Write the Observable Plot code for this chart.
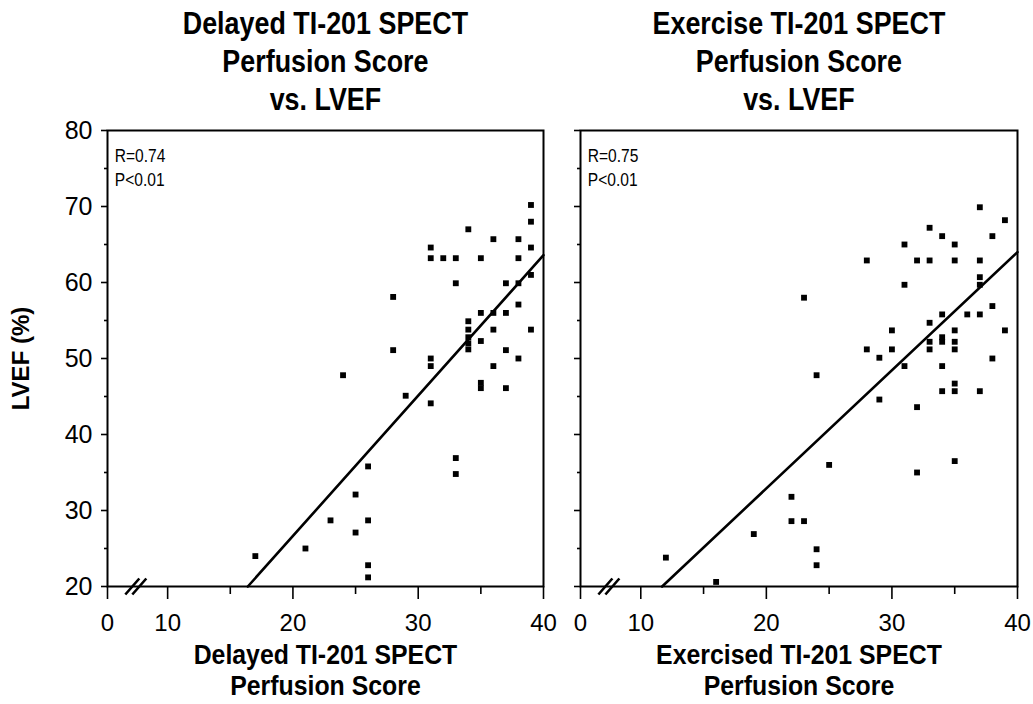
<!DOCTYPE html>
<html><head><meta charset="utf-8">
<script src="https://cdn.jsdelivr.net/npm/d3@7"></script>
<script src="https://cdn.jsdelivr.net/npm/@observablehq/plot@0.6"></script>
<style>
body{margin:0;background:#fff;}
#wrap{position:relative;width:1033px;height:704px;overflow:hidden;}
#wrap svg{position:absolute;top:0;overflow:visible;}
</style></head><body><div id="wrap"></div>
<script>
// Delayed Tl-201 SPECT perfusion score (x) vs LVEF % (y)
const delayedScore = [17,21,23,24,25,25,26,26,26,26,28,28,29,31,31,31,31,31,32,33,33,33,33,34,34,34,34,34,34,35,35,35,35,35,36,36,36,36,37,37,37,37,38,38,38,38,38,39,39,39,39,39];
const delayedLVEF  = [24,25,28.7,47.8,32.1,27.1,35.8,28.7,22.8,21.2,58.1,51.1,45.1,64.6,63.2,50.0,49.0,44.1,63.2,63.2,59.9,36.9,34.8,67.0,54.9,53.8,52.8,52.0,51.2,63.2,56.0,52.3,46.8,46.1,65.7,56.0,53.8,49.0,59.9,56.0,51.1,46.1,65.7,63.2,59.9,57.1,50.0,70.2,68.0,64.6,61.0,53.8];
// Exercise Tl-201 SPECT perfusion score (x) vs LVEF % (y)
const exerciseScore = [12,16,19,22,22,23,23,24,24,24,25,28,28,29,29,30,30,31,31,31,32,32,32,33,33,33,33,33,34,34,34,34,34,34,35,35,35,35,35,35,35,35,36,37,37,37,37,37,37,38,38,38,39,39];
const exerciseLVEF  = [23.8,20.6,26.9,31.8,28.6,58.0,28.6,47.8,24.9,22.8,36.0,62.9,51.2,50.1,44.6,53.7,51.2,65.0,59.7,49.0,62.9,43.6,35.0,67.2,62.9,54.7,52.2,51.2,66.1,55.8,52.8,52.2,49.0,45.7,65.0,62.9,53.7,52.2,51.2,46.7,45.7,36.5,55.8,69.9,62.9,60.7,59.7,55.8,45.7,66.1,56.9,50.0,68.2,53.7];
// regression line end points
const delayedFitScore = [16.4, 40];
const delayedFitLVEF  = [20, 63.6];
const exerciseFitScore = [11.7, 40];
const exerciseFitLVEF  = [20, 64];
// broken x axis: the axis origin "0" stands at the left end of the scale
const xAxisStart = 5.2;
const xMajorTicks = [xAxisStart, 10, 20, 30, 40];
const xMinorTicks = [15, 25, 35];
const yMajorTicks = [20, 30, 40, 50, 60, 70, 80];
const yMinorTicks = [25, 35, 45, 55, 65, 75];
const axisBreakAt = [7.5];
// texts
const titles = ["Delayed TI-201 SPECT\nPerfusion Score\nvs. LVEF", "Exercise TI-201 SPECT\nPerfusion Score\nvs. LVEF"];
const xLabels = ["Delayed TI-201 SPECT\nPerfusion Score", "Exercised TI-201 SPECT\nPerfusion Score"];
const statTexts = ["R=0.74\nP<0.01", "R=0.75\nP<0.01"];
const yLabel = "LVEF (%)";

const sans = "Liberation Sans, Arial, Helvetica, sans-serif";

const breakSymbol = {
  draw(ctx) {
    ctx.moveTo(-11, 8); ctx.lineTo(3, -8);
    ctx.moveTo(-4, 8); ctx.lineTo(10, -8);
  }
};

function condense(svg, cls, cx, s) {
  svg.querySelectorAll("g." + cls).forEach(g => {
    const t = g.getAttribute("transform") || "";
    g.setAttribute("transform", `translate(${cx},0) scale(${s},1) translate(${-cx},0) ${t}`);
  });
}

function panel({xs, ys, fitX, fitY, title, xLabel, stat, width, left, right, showY}) {
  const pts = xs.map((x, i) => ({x, y: ys[i]}));
  const fit = fitX.map((x, i) => ({x, y: fitY[i]}));
  const marks = [
    Plot.axisX(xMajorTicks, {anchor: "bottom", tickSize: 13, tickPadding: 14, fontSize: 24, fontFamily: sans, strokeWidth: 1.6, label: null, tickFormat: d => d < 10 ? "0" : String(d)}),
    Plot.axisX(xMinorTicks, {anchor: "bottom", tickSize: 8, tickFormat: () => "", strokeWidth: 1.6, label: null}),
    Plot.axisY(yMajorTicks, {anchor: "left", tickSize: 6, tickPadding: 9, fontSize: 25, fontFamily: sans, strokeWidth: 1.6, label: null, tickFormat: showY ? (d => String(d)) : (() => "")}),
    Plot.axisY(yMinorTicks, {anchor: "left", tickSize: 3, tickFormat: () => "", strokeWidth: 1.6, label: null}),
    Plot.frame({stroke: "black", strokeWidth: 2}),
    Plot.dot(axisBreakAt, {x: d => d, y: () => 20, symbol: breakSymbol, stroke: "black", strokeWidth: 2.6, fill: "none"}),
    Plot.line(fit, {x: "x", y: "y", stroke: "black", strokeWidth: 2.6}),
    Plot.dot(pts, {x: "x", y: "y", symbol: "square", r: 3.3, fill: "black", stroke: "none"}),
    Plot.text([stat], {className: "cond-stat", frameAnchor: "top-left", text: d => d, dx: 9, dy: 15, lineAnchor: "top", fontSize: 19, fontFamily: sans, lineHeight: 1.25, fill: "black"}),
    Plot.text([title], {className: "cond-mid", frameAnchor: "top", text: d => d, dy: -124, lineAnchor: "top", fontSize: 32, fontWeight: "bold", fontFamily: sans, lineHeight: 1.19, fill: "black"}),
    Plot.text([xLabel], {className: "cond-mid2", frameAnchor: "bottom", text: d => d, dy: 56, lineAnchor: "top", fontSize: 27, fontWeight: "bold", fontFamily: sans, lineHeight: 1.13, fill: "black"})
  ];
  if (showY) marks.push(Plot.text([yLabel], {frameAnchor: "left", text: d => d, dx: -86, rotate: -90, textAnchor: "middle", fontSize: 24, fontWeight: "bold", fontFamily: sans, fill: "black"}));
  const svg = Plot.plot({
    width, height: 704,
    marginLeft: left, marginRight: width - right, marginTop: 130, marginBottom: 118,
    x: {domain: [xAxisStart, 40], label: null},
    y: {domain: [20, 80], label: null},
    style: {background: "transparent", color: "black", overflow: "visible"},
    marks
  });
  const cx = (left + right) / 2;
  condense(svg, "cond-mid", cx, 0.84);
  condense(svg, "cond-mid2", cx, 0.92);
  condense(svg, "cond-stat", left, 0.82);
  return svg;
}

const wrap = document.getElementById("wrap");
const a = panel({xs: delayedScore, ys: delayedLVEF, fitX: delayedFitScore, fitY: delayedFitLVEF, title: titles[0], xLabel: xLabels[0], stat: statTexts[0], width: 560, left: 107, right: 543, showY: true});
a.style.left = "0px";
const b = panel({xs: exerciseScore, ys: exerciseLVEF, fitX: exerciseFitScore, fitY: exerciseFitLVEF, title: titles[1], xLabel: xLabels[1], stat: statTexts[1], width: 473, left: 20, right: 457, showY: false});
b.style.left = "560px";
wrap.appendChild(a);
wrap.appendChild(b);
</script></body></html>
